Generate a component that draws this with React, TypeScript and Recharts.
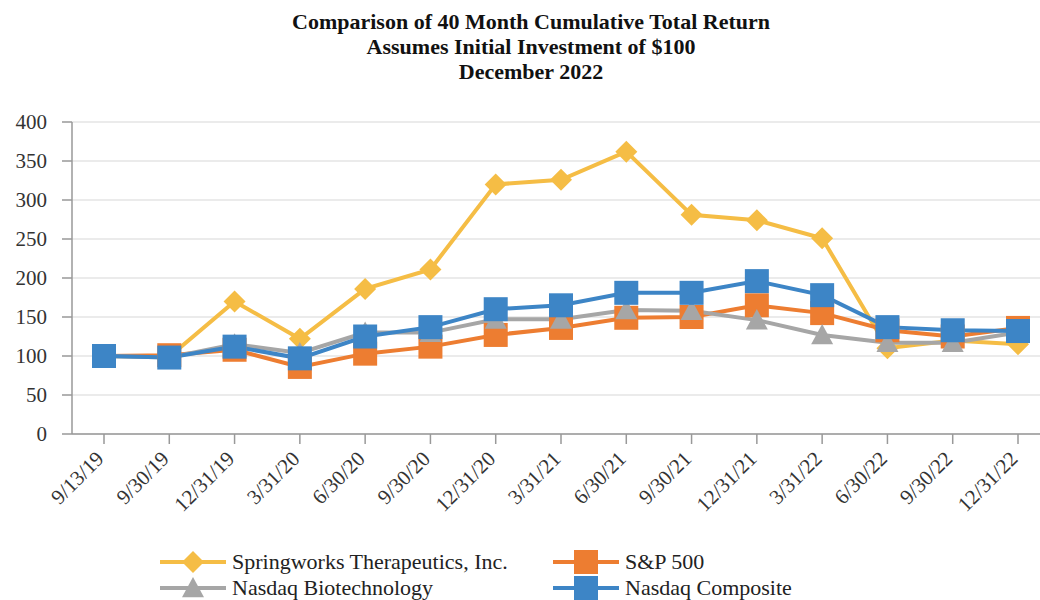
import React from "react";
import { LineChart, Line, XAxis, YAxis, CartesianGrid } from "recharts";

const categories = [
  "9/13/19", "9/30/19", "12/31/19", "3/31/20", "6/30/20", "9/30/20", "12/31/20", "3/31/21",
  "6/30/21", "9/30/21", "12/31/21", "3/31/22", "6/30/22", "9/30/22", "12/31/22",
];
const springworks = [100, 99, 170, 122, 186, 211, 320, 326, 362, 281, 274, 251, 110, 120, 115];
const sp500 = [100, 101, 108, 86, 103, 112, 127, 136, 149, 150, 165, 155, 133, 125, 136];
const nasdaqBiotech = [100, 98, 115, 104, 130, 130, 147, 147, 159, 158, 146, 127, 117, 117, 130];
const nasdaqComposite = [100, 98, 112, 97, 125, 137, 160, 165, 181, 181, 196, 178, 137, 133, 132];
const yTicks = [0, 50, 100, 150, 200, 250, 300, 350, 400];

const data = categories.map((date, i) => ({
  date,
  springworks: springworks[i],
  sp500: sp500[i],
  nbi: nasdaqBiotech[i],
  composite: nasdaqComposite[i],
}));

const FONT = "'Liberation Serif', 'Times New Roman', serif";

type Shape = "diamond" | "square" | "triangle";

function marker(shape: Shape, cx: number, cy: number, color: string, s: number) {
  if (shape === "diamond")
    return <path d={`M${cx},${cy - s} L${cx + s},${cy} L${cx},${cy + s} L${cx - s},${cy} Z`} fill={color} />;
  if (shape === "square")
    return <rect x={cx - s} y={cy - s} width={s * 2} height={s * 2} fill={color} />;
  return <path d={`M${cx},${cy - s} L${cx + s},${cy + s * 0.85} L${cx - s},${cy + s * 0.85} Z`} fill={color} />;
}

const series: { key: string; name: string; color: string; shape: Shape; size: number }[] = [
  { key: "springworks", name: "Springworks Therapeutics, Inc.", color: "#F5BD45", shape: "diamond", size: 11 },
  { key: "sp500", name: "S&P 500", color: "#ED7D31", shape: "square", size: 12 },
  { key: "nbi", name: "Nasdaq Biotechnology", color: "#A6A6A6", shape: "triangle", size: 11 },
  { key: "composite", name: "Nasdaq Composite", color: "#3D85C6", shape: "square", size: 12 },
];

function XTick({ x, y, payload }: any) {
  const tx = x + 1;
  const ty = y + 14;
  return (
    <text
      x={tx}
      y={ty}
      transform={`rotate(-45, ${tx}, ${ty})`}
      textAnchor="end"
      fontSize={21}
      fontFamily={FONT}
      fill="#333"
    >
      {payload.value}
    </text>
  );
}

export default function App() {
  return (
    <div style={{ position: "absolute", left: 0, top: 0, width: 1040, height: 600, background: "#fff", fontFamily: FONT }}>
      <div
        style={{
          position: "absolute",
          top: 9,
          left: 22,
          width: 1018,
          textAlign: "center",
          fontWeight: "bold",
          fontSize: 22,
          lineHeight: "25px",
          color: "#111",
        }}
      >
        <div>Comparison of 40 Month Cumulative Total Return</div>
        <div>Assumes Initial Investment of $100</div>
        <div>December 2022</div>
      </div>
      <LineChart width={1040} height={600} data={data} margin={{ top: 122, right: 0, left: 0, bottom: 86 }}>
        <CartesianGrid vertical={false} stroke="#e4e4e4" strokeWidth={1.5} />
        <XAxis
          dataKey="date"
          padding={{ left: 32, right: 22 }}
          height={80}
          tick={<XTick />}
          tickSize={10}
          interval={0}
          stroke="#999"
          strokeWidth={1.5}
        />
        <YAxis
          domain={[0, 400]}
          ticks={yTicks}
          width={72}
          tickSize={10}
          tickMargin={15}
          stroke="#999"
          strokeWidth={1.5}
          tick={{ fontSize: 21, fontFamily: FONT, fill: "#333" }}
        />
        {series.map((s) => (
          <Line
            key={s.key}
            dataKey={s.key}
            name={s.name}
            type="linear"
            stroke={s.color}
            strokeWidth={4}
            isAnimationActive={false}
            dot={(p: any) => <g key={`${s.key}-${p.index}`}>{marker(s.shape, p.cx, p.cy, s.color, s.size)}</g>}
            activeDot={false}
          />
        ))}
      </LineChart>
      {series.map((s, i) => {
        const col = i % 2;
        const row = Math.floor(i / 2);
        const left = col === 0 ? 160 : 553;
        const top = row === 0 ? 549 : 575;
        return (
          <div key={s.key} style={{ position: "absolute", left, top, height: 26, display: "flex", alignItems: "center" }}>
            <svg width={66} height={26}>
              <line x1={0} y1={13} x2={66} y2={13} stroke={s.color} strokeWidth={4} />
              {marker(s.shape, 33, 13, s.color, s.size)}
            </svg>
            <span style={{ marginLeft: 6, fontSize: 22, color: "#222" }}>{s.name}</span>
          </div>
        );
      })}
    </div>
  );
}
